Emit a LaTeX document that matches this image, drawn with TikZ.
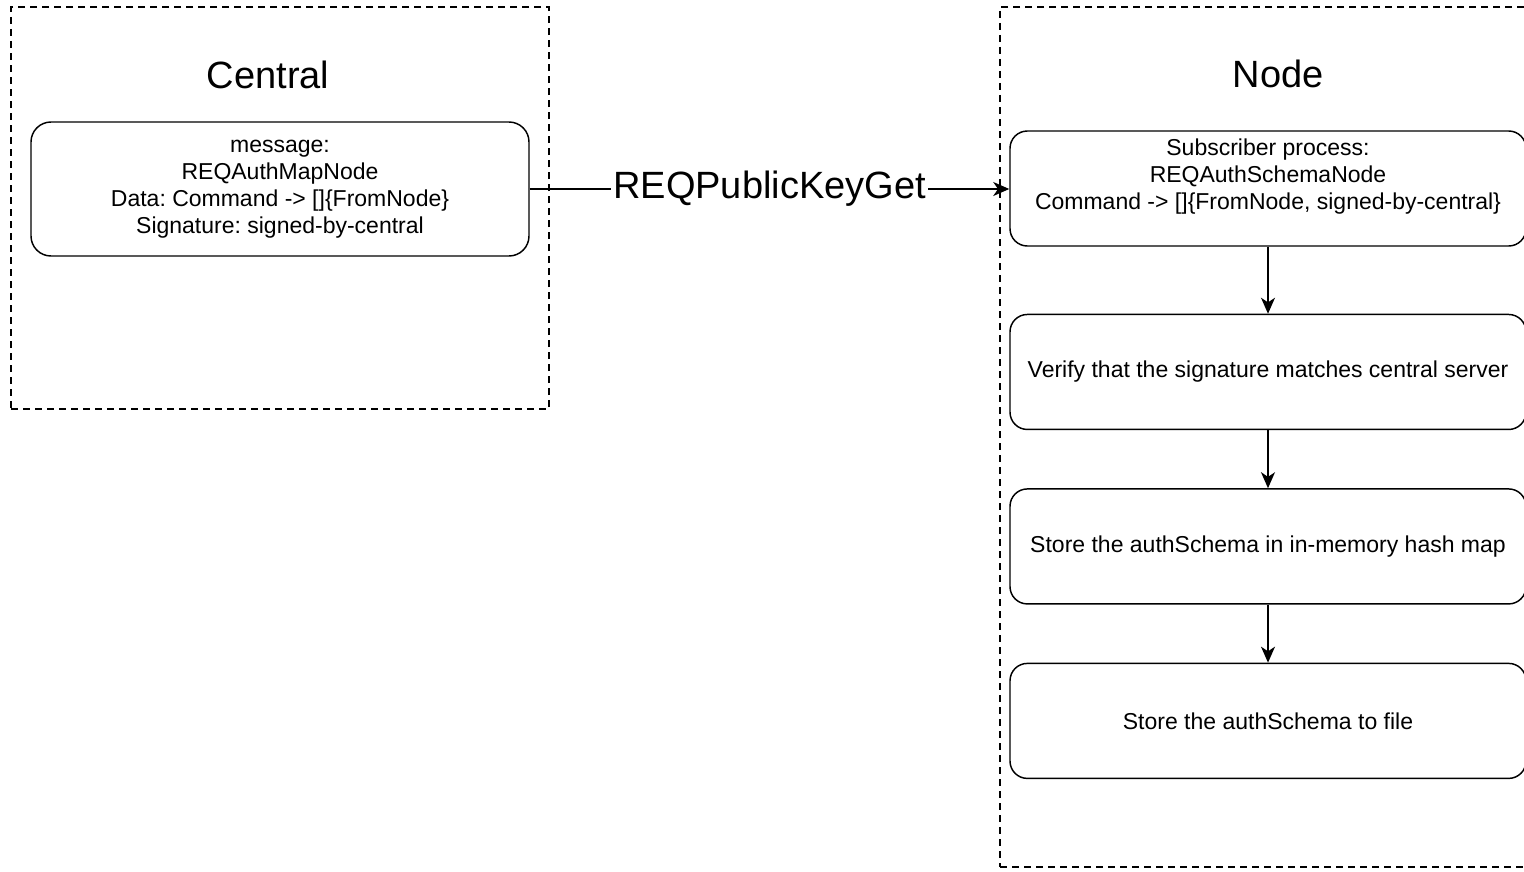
\documentclass[tikz,border=0pt]{standalone}
\usepackage{fontspec}
\setmainfont{Liberation Sans}
\usetikzlibrary{arrows.meta, positioning}

\begin{document}
\frenchspacing
\begin{tikzpicture}[
        x=0.75pt, y=-0.75pt,
        >={Stealth[length=12pt, width=10.5pt, inset=3.5pt]},
        line width=1.1pt,
        container/.style={draw, dash pattern=on 5pt off 4pt, line width=0.9pt},
        title/.style={font=\fontsize{28.5}{34}\selectfont, anchor=base},
        smalltext/.style={font=\fontsize{17.25}{20.25}\selectfont, align=center},
        stepbox/.style={draw, smalltext, rounded corners=13pt, minimum width=387pt, minimum height=86.25pt}
    ]
    \useasboundingbox (0,0) rectangle (1524,871);
    \clip (0,0) rectangle (1524,871);

    % Containers
    \node[container, minimum width=403.5pt, minimum height=301.5pt] (central) at (280,208) {};
    \node[container, minimum width=405pt, minimum height=645pt] (nodeside) at (1270,437) {};

    \node[title] (centraltitle) at (268,88) {Central};
    \node[title] (nodetitle) at (1278,87) {Node};

    % Central message
    \node[stepbox, minimum width=373.5pt, minimum height=100.5pt, rounded corners=15pt] (msg) at (280,189)
        {message:\\REQAuthMapNode\\Data: Command -> []\{FromNode\}\\Signature: signed-by-central};

    % Node steps
    \node[stepbox] (subscriber) at (1268,188.5) {};
    \node[smalltext] (subtext) at (1268,177)
        {Subscriber process:\\REQAuthSchemaNode\\Command -> []\{FromNode, signed-by-central\}};
    \node[stepbox, below=50.25pt of subscriber] (verify) {Verify that the signature matches central server};
    \node[stepbox, below=43.5pt of verify] (storemap) {Store the authSchema in in-memory hash map};
    \node[stepbox, below=43.5pt of storemap] (storefile) {Store the authSchema to file};

    % Connectors
    \draw[->] (msg.east) -- node[fill=white, font=\fontsize{28.5}{34}\selectfont, inner xsep=1.5pt, inner ysep=0pt] {REQPublicKeyGet} (msg.east -| subscriber.west);
    \foreach \a/\b in {subscriber/verify, verify/storemap, storemap/storefile}
        \draw[->] (\a) -- (\b);
\end{tikzpicture}
\end{document}
